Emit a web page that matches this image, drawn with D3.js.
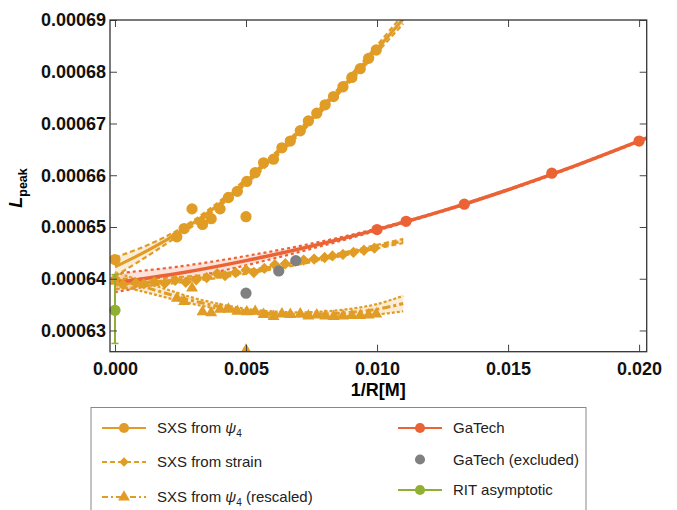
<!DOCTYPE html>
<html><head><meta charset="utf-8">
<script src="https://cdn.jsdelivr.net/npm/d3@7"></script>
<style>body{margin:0;background:#fff}svg{display:block;font-family:"Liberation Sans",Arial,sans-serif}</style>
</head><body><svg id="c" width="677" height="510"></svg>
<script>
// ---------- data ----------
const xTickVals = [0, 0.005, 0.01, 0.015, 0.02];
const xTickLabels = ["0.000", "0.005", "0.010", "0.015", "0.020"];
const yTickVals = [0.00063, 0.00064, 0.00065, 0.00066, 0.00067, 0.00068, 0.00069];
const yTickLabels = ["0.00063", "0.00064", "0.00065", "0.00066", "0.00067", "0.00068", "0.00069"];

// SXS from psi4 (circles)
const psi4X = [0, 0.00294, 0.005, 0.00236, 0.00264, 0.00334, 0.00367, 0.00401, 0.00433, 0.00467, 0.00503, 0.00535, 0.00567, 0.00605, 0.00637, 0.00669, 0.00707, 0.00738, 0.0077, 0.00802, 0.00834, 0.0087, 0.00904, 0.00936, 0.00968, 0.00997];
const psi4Y = [0.0006437, 0.0006535, 0.000652, 0.0006481, 0.0006497, 0.0006505, 0.0006516, 0.0006535, 0.0006557, 0.0006569, 0.0006588, 0.0006605, 0.0006624, 0.0006631, 0.0006653, 0.0006666, 0.0006686, 0.0006705, 0.000672, 0.0006736, 0.0006752, 0.0006771, 0.0006789, 0.0006806, 0.0006826, 0.0006842];
const psi4FitX = [0, 0.001, 0.002, 0.003, 0.004, 0.005, 0.006, 0.007, 0.008, 0.009, 0.010, 0.011];
const psi4FitY = [0.0006423, 0.0006448, 0.0006476, 0.0006508, 0.0006545, 0.0006588, 0.0006633, 0.0006682, 0.0006734, 0.0006788, 0.0006844, 0.0006902];
const psi4FitErr = [0.0000018, 0.0000012, 0.0000007, 0.0000005, 0.0000005, 0.0000005, 0.0000005, 0.0000005, 0.0000005, 0.0000006, 0.0000007, 0.0000009];

// SXS from strain (diamonds)
const strainX = [0, 0.0003, 0.0008, 0.0011, 0.0015, 0.0019, 0.0023, 0.0027, 0.0031, 0.0035, 0.0039, 0.0042, 0.0046, 0.005, 0.0053, 0.0057, 0.0061, 0.0065, 0.0069, 0.0072, 0.0076, 0.008, 0.0083, 0.0087, 0.0091, 0.0095, 0.0099];
const strainY = [0.00064, 0.0006389, 0.0006392, 0.000639, 0.0006394, 0.0006391, 0.0006397, 0.0006393, 0.0006398, 0.0006402, 0.000641, 0.0006406, 0.0006412, 0.0006417, 0.0006412, 0.000642, 0.0006427, 0.0006429, 0.0006434, 0.0006436, 0.0006438, 0.0006441, 0.0006444, 0.0006447, 0.0006451, 0.0006455, 0.0006459];
const strainFitX = [0, 0.002, 0.004, 0.006, 0.008, 0.010, 0.011];
const strainFitY = [0.000639, 0.0006396, 0.0006406, 0.0006421, 0.000644, 0.0006462, 0.0006473];
const strainFitErr = [0.000001, 0.0000006, 0.0000004, 0.0000003, 0.0000003, 0.00000035, 0.0000004];

// SXS from psi4 rescaled (triangles)
const resX = [0, 0.00294, 0.005, 0.00236, 0.00264, 0.00334, 0.00367, 0.00401, 0.00433, 0.00467, 0.00503, 0.00535, 0.00567, 0.00605, 0.00637, 0.00669, 0.00707, 0.00738, 0.0077, 0.00802, 0.00834, 0.0087, 0.00904, 0.00936, 0.00968, 0.00997];
const resY = [0.0006395, 0.0006382, 0.0006262, 0.0006362, 0.0006356, 0.0006336, 0.0006334, 0.0006341, 0.0006341, 0.0006337, 0.0006336, 0.0006337, 0.0006331, 0.0006327, 0.0006332, 0.0006331, 0.0006332, 0.0006328, 0.000633, 0.0006328, 0.0006327, 0.0006328, 0.0006329, 0.0006329, 0.000633, 0.0006332];
const resFitX = [0, 0.001, 0.002, 0.003, 0.004, 0.005, 0.006, 0.007, 0.008, 0.009, 0.010, 0.011];
const resFitY = [0.00064, 0.0006386, 0.0006371, 0.0006357, 0.0006346, 0.0006338, 0.0006333, 0.0006331, 0.0006332, 0.0006335, 0.0006341, 0.0006352];
const resFitErr = [0.0000013, 0.000001, 0.0000008, 0.0000006, 0.0000005, 0.0000004, 0.0000004, 0.0000004, 0.0000005, 0.0000007, 0.000001, 0.0000015];

// GaTech
const gaX = [0.01, 0.01111, 0.01333, 0.01667, 0.02];
const gaY = [0.0006495, 0.0006511, 0.0006544, 0.0006604, 0.0006666];
const gaFitX = [0, 0.0025, 0.005, 0.0075, 0.01, 0.0125, 0.015, 0.0175, 0.0205];
const gaFitY = [0.0006392, 0.0006411, 0.0006435, 0.0006463, 0.0006495, 0.0006531, 0.0006572, 0.0006617, 0.0006676];
const gaFitErr = [0.0000018, 0.0000013, 0.0000009, 0.0000005, 0.0000002, 0.0000001, 0.0000001, 0.0000001, 0.0000001];

// GaTech excluded
const gaExX = [0.005, 0.00625, 0.0069];
const gaExY = [0.0006372, 0.0006415, 0.0006435];

// RIT asymptotic
const ritX = [0];
const ritY = [0.0006339];
const ritLo = [0.0006275];
const ritHi = [0.0006408];

// ---------- drawing ----------
const C = {orange: "#E09C24", red: "#EB6235", gray: "#808080", green: "#8FB032"};
const svg = d3.select("#c");
const L = 110, R = 646.7, T = 20, B = 351.7;
const x = d3.scaleLinear().domain([-0.00019, 0.02029]).range([L, R]);
const y = d3.scaleLinear().domain([0.0006259, 0.00069]).range([B, T]);

svg.append("clipPath").attr("id", "clip").append("rect")
  .attr("x", L).attr("y", T).attr("width", R - L).attr("height", B - T);
const plot = svg.append("g").attr("clip-path", "url(#clip)");

function band(X, Y, E, fill, stroke, dash) {
  const d = X.map((v, i) => ({x: v, y: Y[i], e: E[i]}));
  const curve = d3.curveCatmullRom;
  plot.append("path").datum(d)
    .attr("d", d3.area().curve(curve).x(p => x(p.x)).y0(p => y(p.y - p.e)).y1(p => y(p.y + p.e)))
    .attr("fill", fill).attr("stroke", "none");
  [-1, 1].forEach(s => {
    plot.append("path").datum(d)
      .attr("d", d3.line().curve(curve).x(p => x(p.x)).y(p => y(p.y + s * p.e)))
      .attr("fill", "none").attr("stroke", stroke).attr("stroke-width", 2.2)
      .attr("stroke-dasharray", dash);
  });
}
function fitLine(X, Y, color, width, dash) {
  const d = X.map((v, i) => ({x: v, y: Y[i]}));
  plot.append("path").datum(d)
    .attr("d", d3.line().curve(d3.curveCatmullRom).x(p => x(p.x)).y(p => y(p.y)))
    .attr("fill", "none").attr("stroke", color).attr("stroke-width", width)
    .attr("stroke-dasharray", dash || null);
}
function points(X, Y, type, size, color, rot) {
  const sym = d3.symbol().type(type).size(size);
  plot.append("g").selectAll("path").data(X.map((v, i) => [v, Y[i]])).join("path")
    .attr("d", sym)
    .attr("transform", p => `translate(${x(p[0])},${y(p[1])})` + (rot ? ` rotate(${rot})` : ""))
    .attr("fill", color);
}

const oFill = "rgba(240,200,140,0.35)", rFill = "rgba(245,160,130,0.3)";
band(gaFitX, gaFitY, gaFitErr, rFill, C.red, "3,3");
band(resFitX, resFitY, resFitErr, oFill, C.orange, "3,2");
band(strainFitX, strainFitY, strainFitErr, oFill, C.orange, "5,3");
band(psi4FitX, psi4FitY, psi4FitErr, oFill, C.orange, "5,3");
fitLine(resFitX, resFitY, C.orange, 3, "8,3,3,3");
fitLine(strainFitX, strainFitY, C.orange, 3, "7,3");
fitLine(psi4FitX, psi4FitY, C.orange, 3);
fitLine(gaFitX, gaFitY, C.red, 3.5);

points(strainX, strainY, d3.symbolSquare, 64, C.orange, 45);
points(resX, resY, d3.symbolTriangle, 62, C.orange);
points(psi4X, psi4Y, d3.symbolCircle, 100, C.orange);
points(gaX, gaY, d3.symbolCircle, 100, C.red);
points(gaExX, gaExY, d3.symbolCircle, 100, C.gray);

// RIT error bar
ritX.forEach((v, i) => {
  const g = svg.append("g");
  g.append("line").attr("x1", x(v)).attr("x2", x(v)).attr("y1", y(ritLo[i])).attr("y2", y(ritHi[i]))
    .attr("stroke", C.green).attr("stroke-width", 2);
  [ritLo[i], ritHi[i]].forEach(e => g.append("line").attr("x1", x(v) - 3.5).attr("x2", x(v) + 3.5)
    .attr("y1", y(e)).attr("y2", y(e)).attr("stroke", C.green).attr("stroke-width", 1.5));
  g.append("circle").attr("cx", x(v)).attr("cy", y(ritY[i])).attr("r", 5.6).attr("fill", C.green);
});

// ---------- frame & axes ----------
const xMinor = d3.range(0, 0.0205, 0.001);
const yMinor = d3.range(0.000625, 0.0006905, 0.000005);
function axis(gen, scale, major, minor, pos, labels) {
  const g = svg.append("g").attr("transform", pos);
  g.call(gen(scale).tickValues(minor).tickSizeInner(-4).tickSizeOuter(0).tickFormat(""));
  g.call(gen(scale).tickValues(major).tickSizeInner(-7).tickSizeOuter(0)
    .tickPadding(labels ? (gen === d3.axisBottom ? 11 : 4) : 0)
    .tickFormat((d, i) => labels ? labels[i] : ""));
  g.selectAll(".domain").remove();
  g.selectAll("line").attr("stroke", "#444").attr("stroke-width", 1);
  g.selectAll("text").attr("font-size", 18).attr("font-weight", "bold").attr("fill", "#111")
    .attr("font-family", '"Liberation Sans", Arial, sans-serif');
  return g;
}
axis(d3.axisBottom, x, xTickVals, xMinor, `translate(0,${B})`, xTickLabels);
axis(d3.axisTop, x, xTickVals, xMinor, `translate(0,${T})`, null);
axis(d3.axisLeft, y, yTickVals, yMinor, `translate(${L},0)`, yTickLabels);
axis(d3.axisRight, y, yTickVals, yMinor, `translate(${R},0)`, null);
svg.append("rect").attr("x", L).attr("y", T).attr("width", R - L).attr("height", B - T)
  .attr("fill", "none").attr("stroke", "#333").attr("stroke-width", 1.3);

// axis labels
svg.append("text").attr("x", (L + R) / 2).attr("y", 396).attr("text-anchor", "middle")
  .attr("font-size", 18).attr("font-weight", "bold").text("1/R[M]");
const yl = svg.append("text").attr("transform", "translate(22,188) rotate(-90)")
  .attr("text-anchor", "middle").attr("font-weight", "bold");
yl.append("tspan").attr("font-size", 18).attr("font-style", "italic").text("L");
yl.append("tspan").attr("font-size", 12.5).attr("dy", 5).text("peak");

// ---------- legend ----------
svg.append("rect").attr("x", 91).attr("y", 407.5).attr("width", 495).attr("height", 120)
  .attr("fill", "#fff").attr("stroke", "#888").attr("stroke-width", 1);
const legItems = [
  {x: 102, y: 428, color: C.orange, dash: null, sym: d3.symbolCircle, size: 80, rot: 0, text: ["SXS from ", "ψ", "4", ""]},
  {x: 102, y: 462, color: C.orange, dash: "5,3", sym: d3.symbolSquare, size: 45, rot: 45, text: ["SXS from strain"]},
  {x: 102, y: 497, color: C.orange, dash: "6,3,2,3", sym: d3.symbolTriangle, size: 60, rot: 0, text: ["SXS from ", "ψ", "4", " (rescaled)"]},
  {x: 398, y: 428, color: C.red, dash: null, sym: d3.symbolCircle, size: 80, rot: 0, text: ["GaTech"]},
  {x: 398, y: 459.5, color: null, dash: null, sym: d3.symbolCircle, size: 80, rot: 0, fill: C.gray, text: ["GaTech (excluded)"]},
  {x: 398, y: 490, color: C.green, dash: null, sym: d3.symbolCircle, size: 80, rot: 0, text: ["RIT asymptotic"]}
];
legItems.forEach(it => {
  const g = svg.append("g");
  if (it.color) g.append("line").attr("x1", it.x).attr("x2", it.x + 44).attr("y1", it.y).attr("y2", it.y)
    .attr("stroke", it.color).attr("stroke-width", 1.8).attr("stroke-dasharray", it.dash);
  g.append("path").attr("d", d3.symbol().type(it.sym).size(it.size))
    .attr("transform", `translate(${it.x + 22},${it.y})` + (it.rot ? ` rotate(${it.rot})` : ""))
    .attr("fill", it.fill || it.color);
  const t = g.append("text").attr("x", it.x + 55).attr("y", it.y + 5).attr("font-size", 15).attr("fill", "#222");
  if (it.text.length === 1) t.text(it.text[0]);
  else {
    t.append("tspan").text(it.text[0]);
    t.append("tspan").attr("font-style", "italic").text(it.text[1]);
    t.append("tspan").attr("font-size", 10).attr("dy", 4).text(it.text[2]);
    if (it.text[3]) t.append("tspan").attr("dy", -4).text(it.text[3]);
  }
});
</script></body></html>
